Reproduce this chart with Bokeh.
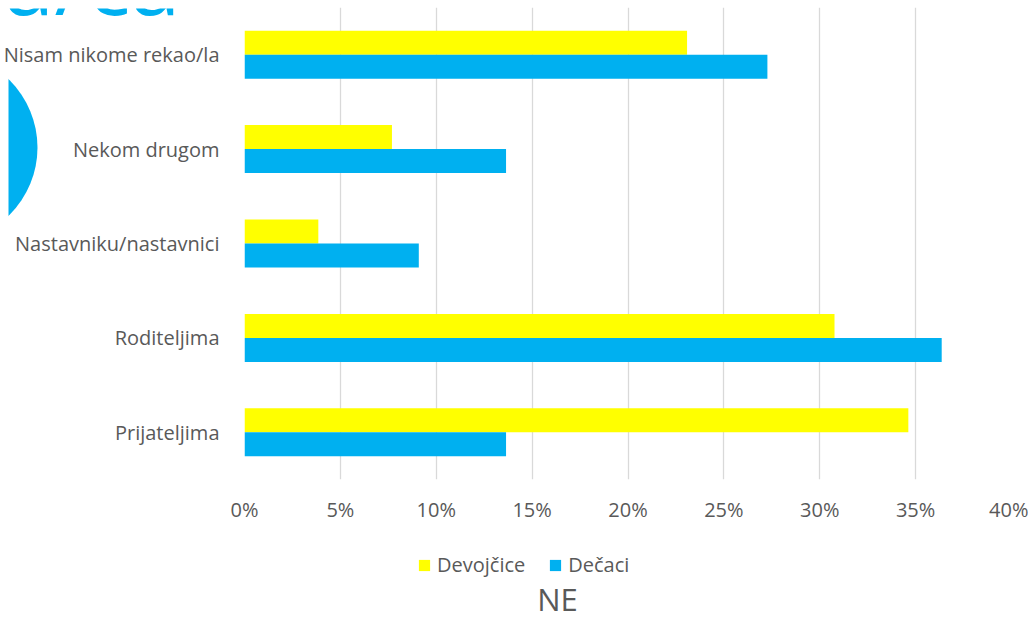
import numpy as np
from bokeh.plotting import figure
from bokeh.models import (FactorRange, Range1d, Legend, LegendItem,
                          NumeralTickFormatter, FixedTicker, ColumnDataSource)
from bokeh.transform import dodge
from bokeh.core.properties import value
from bokeh.embed import file_html
from bokeh.resources import INLINE

# ---------------- data ----------------
categories = ["Prijateljima", "Roditeljima", "Nastavniku/nastavnici",
              "Nekom drugom", "Nisam nikome rekao/la"]          # bottom -> top
devojcice = [0.3462, 0.3077, 0.0385, 0.0769, 0.2308]
decaci = [0.1364, 0.3636, 0.0909, 0.1364, 0.2727]
series_names = ["Devojčice", "Dečaci"]
x_ticks = [0.0, 0.05, 0.10, 0.15, 0.20, 0.25, 0.30, 0.35, 0.40]
chart_title = "NE"
banner_text = "a/ca"

# ---------------- style ----------------
FONT = "Open Sans"
YELLOW = "#FFFF00"
BLUE = "#00B0F0"
TEXT = "#595959"
GRID = "#D9D9D9"

src = ColumnDataSource(dict(cat=categories, dev=devojcice, dec=decaci))

p = figure(width=1028, height=604, title=None,
           y_range=FactorRange(factors=categories),
           x_range=Range1d(0, 0.40),
           output_backend="svg", toolbar_location=None,
           min_border_left=238, min_border_right=17,
           min_border_top=7, min_border_bottom=125)
p.outline_line_color = None
p.background_fill_color = "white"
p.border_fill_color = "white"

bw = 0.254
r_dev = p.hbar(y=dodge("cat", bw / 2, range=p.y_range), right="dev", left=0,
               height=bw, source=src, fill_color=YELLOW, line_color=None)
r_dec = p.hbar(y=dodge("cat", -bw / 2, range=p.y_range), right="dec", left=0,
               height=bw, source=src, fill_color=BLUE, line_color=None)

# axes
p.xaxis.ticker = FixedTicker(ticks=x_ticks)
p.xaxis.formatter = NumeralTickFormatter(format="0%")
p.xaxis.axis_line_color = None
p.xaxis.major_tick_line_color = None
p.xaxis.minor_tick_line_color = None
p.xaxis.major_label_text_font = FONT
p.xaxis.major_label_text_font_size = "20px"
p.xaxis.major_label_text_color = TEXT
p.xaxis.major_label_standoff = 10

p.yaxis.axis_line_color = None
p.yaxis.major_tick_line_color = None
p.yaxis.minor_tick_line_color = None
p.yaxis.major_label_text_font = FONT
p.yaxis.major_label_text_font_size = "20px"
p.yaxis.major_label_text_color = TEXT
p.yaxis.major_label_standoff = 19

p.xgrid.grid_line_color = GRID
p.xgrid.grid_line_width = 1.3
p.ygrid.grid_line_color = None

# ---------- transparent overlay: legend, chart title, slide decoration ----------
OX, OY = 8, 8          # page position of the overlay's top-left corner
deco = figure(width=1020, height=604, title=None,
              x_range=Range1d(OX, OX + 1020), y_range=Range1d(OY + 604, OY),
              x_axis_type=None, y_axis_type=None,
              output_backend="svg", toolbar_location=None,
              min_border=0, min_border_left=0, min_border_right=0,
              min_border_top=0, min_border_bottom=0,
              styles={"position": "absolute", "left": "%dpx" % OX,
                      "top": "%dpx" % OY})
deco.outline_line_color = None
deco.background_fill_alpha = 0
deco.border_fill_alpha = 0
deco.grid.visible = False

# hidden legend swatch renderers (same styling as the bar series)
k_dev = deco.hbar(y=[0], right=[0], left=0, height=0, fill_color=YELLOW,
                  line_color=None, visible=False)
k_dec = deco.hbar(y=[0], right=[0], left=0, height=0, fill_color=BLUE,
                  line_color=None, visible=False)
legend = Legend(items=[LegendItem(label=series_names[0], renderers=[k_dev]),
                       LegendItem(label=series_names[1], renderers=[k_dec])],
                orientation="horizontal", location=(409, 34),
                glyph_width=14, glyph_height=14, label_standoff=6, spacing=23,
                padding=0, margin=0, inactive_fill_alpha=0,
                label_text_font=FONT, label_text_font_size="20px",
                label_text_color=TEXT, border_line_color=None,
                background_fill_alpha=0)
deco.add_layout(legend, "center")

deco.circle(x=[-58], y=[147], radius=95, fill_color=BLUE, line_color=None)
deco.text(x=[180], y=[-21], text=[banner_text], text_align="right",
          text_baseline="alphabetic", text_font=value(FONT),
          text_font_size="90px", text_color=BLUE)
deco.text(x=[557], y=[598], text=[chart_title], text_align="center",
          text_baseline="alphabetic", text_font=value(FONT),
          text_font_size="31px", text_color=TEXT)

open("out.html", "w").write(file_html([p, deco], INLINE))
